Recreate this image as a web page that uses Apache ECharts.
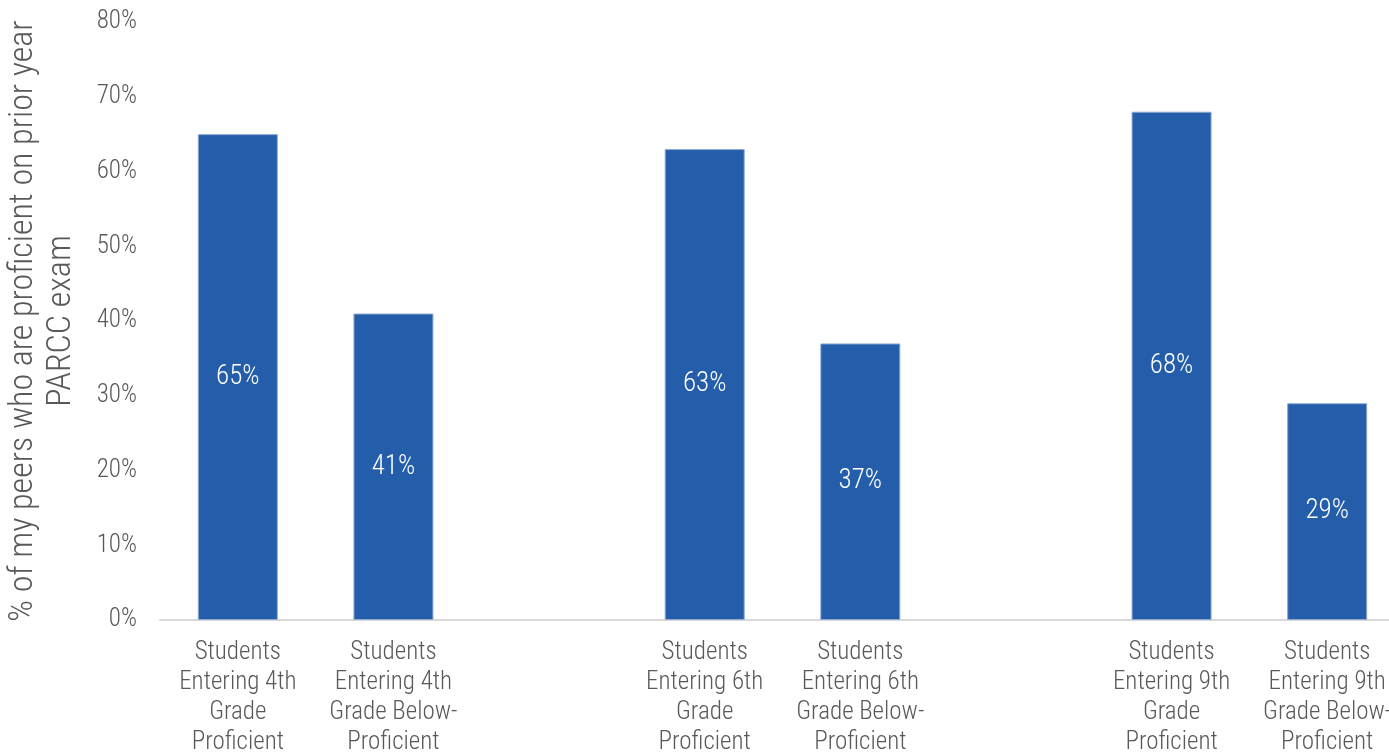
<!DOCTYPE html>
<html>
<head>
<meta charset="utf-8">
<script src="https://cdn.jsdelivr.net/npm/echarts@6/dist/echarts.min.js"></script>
<style>
html,body{margin:0;padding:0;background:#fff;}
#c{width:1389px;height:755px;}
</style>
</head>
<body>
<div id="c"></div>
<script>
const categories = [
  "Students\nEntering 4th\nGrade\nProficient",
  "Students\nEntering 4th\nGrade Below-\nProficient",
  "",
  "Students\nEntering 6th\nGrade\nProficient",
  "Students\nEntering 6th\nGrade Below-\nProficient",
  "",
  "Students\nEntering 9th\nGrade\nProficient",
  "Students\nEntering 9th\nGrade Below-\nProficient"
];
const values = [65, 41, null, 63, 37, null, 68, 29];
const yTicks = [0, 10, 20, 30, 40, 50, 60, 70, 80];
const yTitle = "% of my peers who are proficient on prior year\nPARCC exam";

const FONT = '"Liberation Sans Narrow", "Arial Narrow", "Roboto Condensed", sans-serif';
const W = 300;
const chart = echarts.init(document.getElementById('c'), null, {renderer: 'canvas'});
chart.setOption({
  animation: false,
  grid: {left: 160, right: -16, top: 22, bottom: 135, containLabel: false, outerBoundsMode: 'none'},
  xAxis: {
    type: 'category',
    data: categories,
    axisLine: {lineStyle: {color: '#d9d9d9', width: 2}},
    axisTick: {show: false},
    axisLabel: {interval: 0, color: '#595959', fontSize: 25, fontWeight: W, lineHeight: 30, fontFamily: FONT, margin: 18}
  },
  yAxis: {
    type: 'value',
    min: yTicks[0],
    max: yTicks[yTicks.length - 1],
    interval: 10,
    splitLine: {show: false},
    axisLine: {show: false},
    axisTick: {show: false},
    axisLabel: {formatter: '{value}%', color: '#595959', fontSize: 25, fontWeight: W, fontFamily: FONT, margin: 23},
    name: yTitle,
    nameLocation: 'middle',
    nameRotate: 90,
    nameGap: 80,
    nameTextStyle: {color: '#595959', fontSize: 34, fontWeight: W, lineHeight: 38, fontFamily: FONT}
  },
  series: [{
    type: 'bar',
    data: values,
    barWidth: 80,
    itemStyle: {color: '#245EAA', borderColor: '#8fa9d4', borderWidth: 1},
    label: {
      show: true,
      position: 'inside',
      formatter: '{c}%',
      color: '#ffffff',
      fontSize: 27,
      fontWeight: W,
      fontFamily: FONT
    }
  }]
});
</script>
</body>
</html>
